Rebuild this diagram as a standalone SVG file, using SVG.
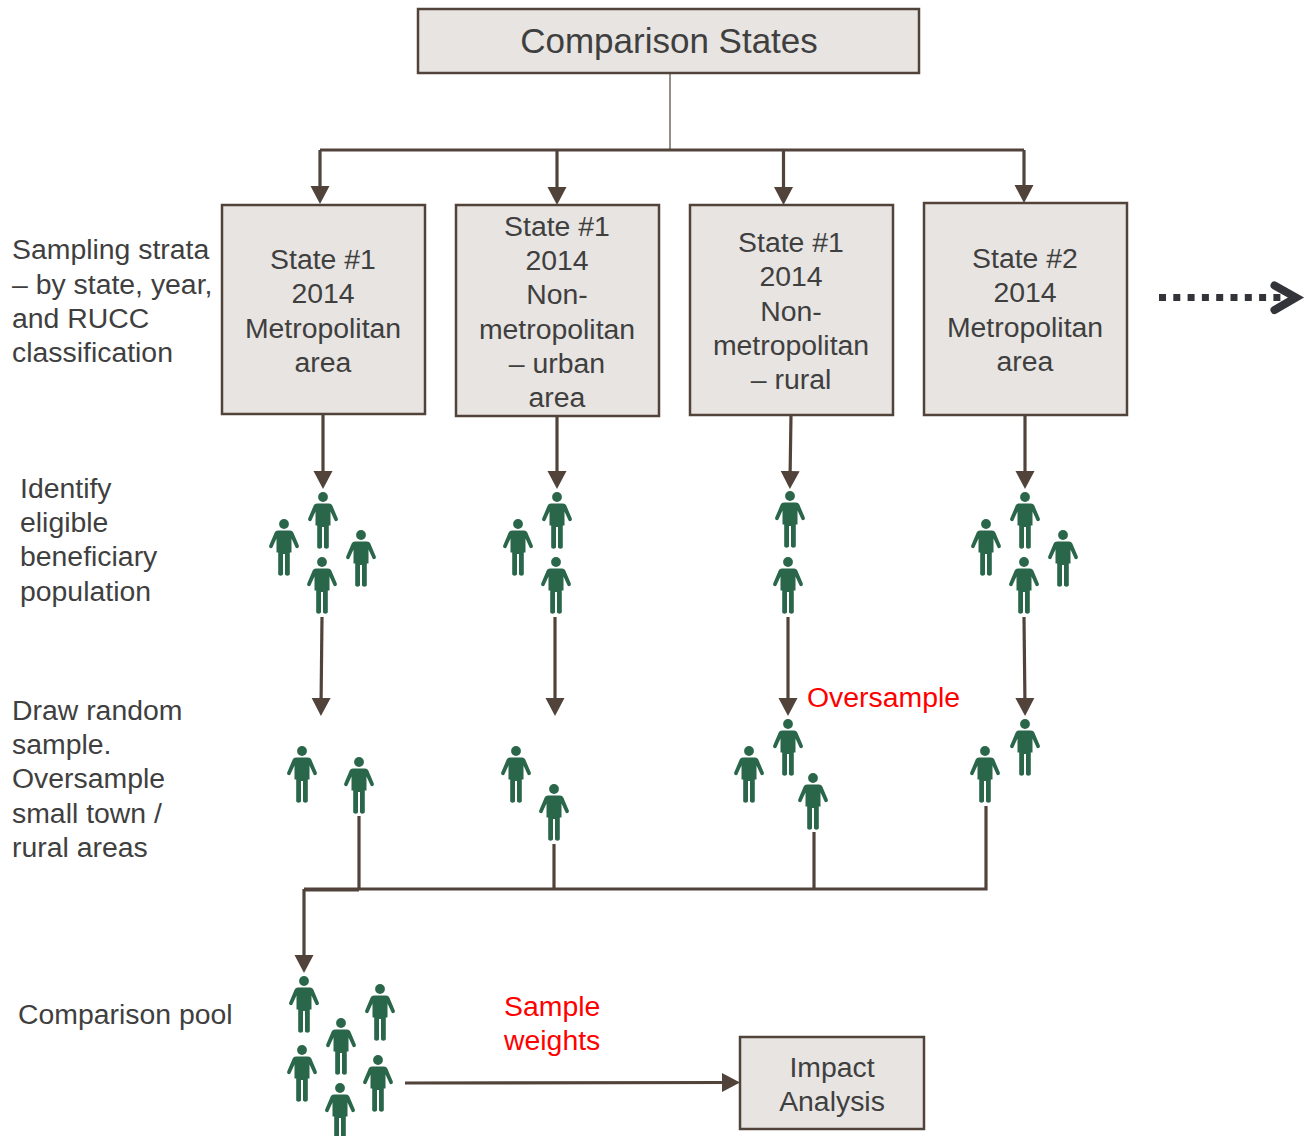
<svg xmlns="http://www.w3.org/2000/svg" xmlns:xlink="http://www.w3.org/1999/xlink" width="1305" height="1136" viewBox="0 0 1305 1136">
<style>
text{font-family:"Liberation Sans",Arial,sans-serif;font-size:28.4px;fill:#3f3f3f}
.c{text-anchor:middle}
.red{fill:#ff0000}
.box{fill:#e7e4e1;stroke:#51433a;stroke-width:2.5}
.ln{fill:none;stroke:#51433a;stroke-width:3.2}
.ar{marker-end:url(#a)}
</style>
<defs>
<marker id="a" markerUnits="userSpaceOnUse" markerWidth="22" markerHeight="22" refX="10" refY="11" orient="auto"><path d="M0 1.500 L18 11 L0 20.500Z" fill="#51433a"/></marker>
<g id="p" fill="#2a674a">
<circle cx="0" cy="0" r="4.900"/>
<path d="M-6 6.500H6C7.500 6.500 8.600 7.200 9.300 8.600L14.800 21.500C15.600 23.600 12.600 25.200 11.600 23.400L7.500 14.500V28.500H5.800V50C5.800 52.200 1 52.200 1 50V30H-1V50C-1 52.200 -5.800 52.200 -5.800 50V28.500H-7.500V14.500L-11.600 23.400C-12.600 25.200 -15.600 23.600 -14.800 21.500L-9.300 8.600C-8.600 7.200 -7.500 6.500 -6 6.500Z"/>
</g>
</defs>
<rect width="1305" height="1136" fill="#fff"/>
<g id="connectors">
<path d="M670 74V150" fill="none" stroke="#51433a" stroke-width="1.200"/>
<path class="ln" d="M320 150H1024"/>
<path class="ln ar" d="M320 150V196"/>
<path class="ln ar" d="M557 150V197"/>
<path class="ln ar" d="M783.500 150V197"/>
<path class="ln ar" d="M1024 150V195"/>
<path class="ln ar" d="M323 415V481"/>
<path class="ln ar" d="M557 416V481"/>
<path class="ln ar" d="M791 415L790 481"/>
<path class="ln ar" d="M1025 415V481"/>
<path class="ln ar" d="M322 617L321 708"/>
<path class="ln ar" d="M555 617V708"/>
<path class="ln ar" d="M788 617V708"/>
<path class="ln ar" d="M1024 617L1025 708"/>
<path class="ln" d="M359 816V890"/>
<path class="ln" d="M554 844V890"/>
<path class="ln" d="M814 832V890"/>
<path class="ln" d="M986 806V889H304"/>
<path class="ln" d="M304 890H359"/>
<path class="ln ar" d="M304 889V965"/>
<path class="ln ar" d="M405 1083L732 1082.500"/>
<path d="M1159 297.500H1287" fill="none" stroke="#33343a" stroke-width="7" stroke-dasharray="7 7.300"/>
<path d="M1274.500 285.500L1296 297.500L1274.500 310" fill="none" stroke="#33343a" stroke-width="8" stroke-linecap="round" stroke-linejoin="miter"/>
</g>
<g id="comparison-states"><rect class="box" x="418" y="9" width="501" height="64"/><text class="c" x="669" y="53" style="font-size:35px">Comparison States</text></g>
<g id="stratum-1"><rect class="box" x="222" y="205" width="203" height="209"/><text class="c" x="323" y="269">State #1</text><text class="c" x="323" y="303">2014</text><text class="c" x="323" y="338">Metropolitan</text><text class="c" x="323" y="372">area</text></g>
<g id="stratum-2"><rect class="box" x="456" y="205" width="203" height="211"/><text class="c" x="557" y="236">State #1</text><text class="c" x="557" y="270">2014</text><text class="c" x="557" y="304">Non-</text><text class="c" x="557" y="339">metropolitan</text><text class="c" x="557" y="373">– urban</text><text class="c" x="557" y="407">area</text></g>
<g id="stratum-3"><rect class="box" x="690" y="205" width="203" height="210"/><text class="c" x="791" y="252">State #1</text><text class="c" x="791" y="286">2014</text><text class="c" x="791" y="321">Non-</text><text class="c" x="791" y="355">metropolitan</text><text class="c" x="791" y="389">– rural</text></g>
<g id="stratum-4"><rect class="box" x="924" y="203" width="203" height="212"/><text class="c" x="1025" y="268">State #2</text><text class="c" x="1025" y="302">2014</text><text class="c" x="1025" y="337">Metropolitan</text><text class="c" x="1025" y="371">area</text></g>
<g id="impact-analysis"><rect class="box" x="740" y="1037" width="184" height="92"/><text class="c" x="832" y="1077">Impact</text><text class="c" x="832" y="1111">Analysis</text></g>
<g id="row-labels">
<text x="12" y="259">Sampling strata</text><text x="12" y="293.500">– by state, year,</text><text x="12" y="327.500">and RUCC</text><text x="12" y="362">classification</text>
<text x="20" y="497.500">Identify</text><text x="20" y="532">eligible</text><text x="20" y="566">beneficiary</text><text x="20" y="600.500">population</text>
<text x="12" y="719.500">Draw random</text><text x="12" y="754">sample.</text><text x="12" y="788">Oversample</text><text x="12" y="822.500">small town /</text><text x="12" y="856.500">rural areas</text>
<text x="18" y="1023.500">Comparison pool</text>
</g>
<g id="red-labels">
<text class="red" x="807" y="707">Oversample</text>
<text class="red" x="504" y="1015.500">Sample</text><text class="red" x="504" y="1050">weights</text>
</g>
<g id="people">
<use xlink:href="#p" href="#p" x="323" y="497"/><use xlink:href="#p" href="#p" x="284" y="524"/><use xlink:href="#p" href="#p" x="361" y="535"/><use xlink:href="#p" href="#p" x="322" y="562"/>
<use xlink:href="#p" href="#p" x="557" y="497"/><use xlink:href="#p" href="#p" x="518" y="524"/><use xlink:href="#p" href="#p" x="556" y="562"/>
<use xlink:href="#p" href="#p" x="790" y="496"/><use xlink:href="#p" href="#p" x="788" y="562"/>
<use xlink:href="#p" href="#p" x="1025" y="497"/><use xlink:href="#p" href="#p" x="986" y="524"/><use xlink:href="#p" href="#p" x="1063" y="535"/><use xlink:href="#p" href="#p" x="1024" y="562"/>
<use xlink:href="#p" href="#p" x="302" y="751"/><use xlink:href="#p" href="#p" x="359" y="762"/>
<use xlink:href="#p" href="#p" x="516" y="751"/><use xlink:href="#p" href="#p" x="554" y="789"/>
<use xlink:href="#p" href="#p" x="788" y="724"/><use xlink:href="#p" href="#p" x="749" y="751"/><use xlink:href="#p" href="#p" x="813" y="778"/>
<use xlink:href="#p" href="#p" x="1025" y="724"/><use xlink:href="#p" href="#p" x="985" y="751"/>
<use xlink:href="#p" href="#p" x="304" y="981"/><use xlink:href="#p" href="#p" x="380" y="989"/><use xlink:href="#p" href="#p" x="341" y="1023"/><use xlink:href="#p" href="#p" x="302" y="1050"/><use xlink:href="#p" href="#p" x="378" y="1060"/><use xlink:href="#p" href="#p" x="340" y="1088"/>
</g>
</svg>
